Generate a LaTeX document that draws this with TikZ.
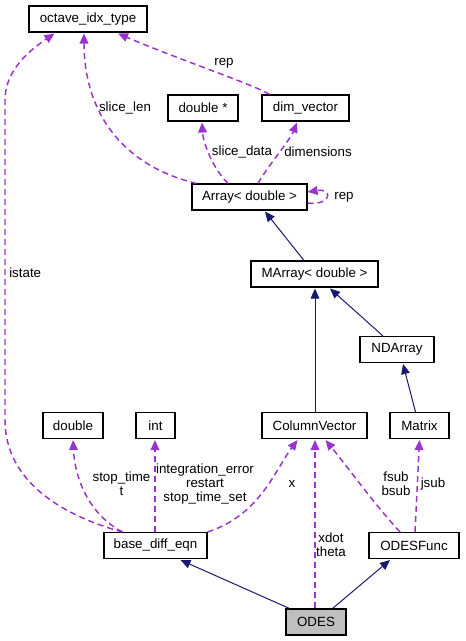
\documentclass[tikz,border=0pt]{standalone}
\usepackage{fontspec}
\setmainfont{Liberation Sans}
\usetikzlibrary{arrows.meta,calc}
\definecolor{dep}{HTML}{9A32CD}
\definecolor{inh}{HTML}{191970}
\definecolor{hl}{HTML}{BFBFBF}
\begin{document}
\begin{tikzpicture}[x=0.75pt,y=-0.75pt,
  font=\fontsize{10pt}{11.5pt}\selectfont,
  cls/.style={draw=black,line width=0.8pt,inner sep=0pt,minimum height=19.5pt,minimum width=#1*0.75pt},
  depl/.style={draw=dep,dash pattern=on 4.5pt off 3pt,line width=1.1pt,-{Triangle[length=7.5pt,width=6.5pt,fill=dep]}},
  inhl/.style={draw=inh,line width=0.75pt,-{Triangle[length=7.5pt,width=6.5pt,fill=inh]}},
  lbl/.style={inner sep=0pt,align=center,font=\fontsize{10pt}{10.5pt}\selectfont}]
\useasboundingbox (0,0) rectangle (465,641);
% nodes
\node[cls=118] (oct) at (88,19) {octave\_idx\_type};
\node[cls=70] (dbls) at (203,108) {double *};
\node[cls=87] (dimv) at (305.5,108) {dim\_vector};
\node[cls=115] (arr) at (249.5,197) {Array< double >};
\node[cls=127] (marr) at (314.5,274) {MArray< double >};
\node[cls=74] (nda) at (397,349.5) {NDArray};
\node[cls=59] (mat) at (419.5,425.5) {Matrix};
\node[cls=105] (colv) at (314.5,425.5) {ColumnVector};
\node[cls=60] (dbl) at (73,425.5) {double};
\node[cls=39] (intn) at (155.5,425.5) {int};
\node[cls=103] (bde) at (155.5,545.5) {base\_diff\_eqn};
\node[cls=90] (odesf) at (414,545.5) {ODESFunc};
\node[cls=60,fill=hl] (odes) at (316,622) {ODES};
% inheritance
\draw[inhl] ($(odes.north west)+(4,0)$) -- ($(bde.south)+(25,1)$);
\draw[inhl] ($(odes.north east)+(-14,0)$) -- ($(odesf.south)+(-24,1)$);
\draw[inhl] ($(marr.north)+(-10.5,0)$) -- ($(arr.south)+(15.5,1)$);
\draw[inhl] ($(colv.north)+(0.5,0)$) -- ($(marr.south)+(0.5,1)$);
\draw[inhl] ($(nda.north)+(-14,0)$) -- ($(marr.south)+(15.5,1)$);
\draw[inhl] ($(mat.north)+(-4,0)$) -- ($(nda.south)+(6,1)$);
% dependencies
\draw[depl] ($(arr.north west)+(5,0)$) .. controls (120,165) and (84,110) .. ($(oct.south)+(-4,1)$);
\node[lbl] (l1) at (125,108) {slice\_len};
\draw[depl] ($(arr.north)+(-21.5,0)$) .. controls (210,165) and (203,140) .. ($(dbls.south)+(-1,1)$);
\node[lbl] (l2) at (242,152) {slice\_data};
\draw[depl] ($(arr.north)+(8.5,0)$) .. controls (265,170) and (290,140) .. ($(dimv.south)+(-8.5,1)$);
\node[lbl] (l3) at (318,152) {dimensions};
\draw[depl] ($(arr.east)+(0,6)$) .. controls +(24,3) and +(26,-4) .. ($(arr.east)+(0,-5)$);
\node[lbl] (l4) at (344,197) {rep};
\draw[depl] ($(dimv.north west)+(8,0)$) .. controls (255,85) and (180,60) .. ($(oct.south)+(30,1)$);
\node[lbl] (l5) at (224,63) {rep};
\draw[depl] ($(bde.north west)+(19,0)$) .. controls (60,515) and (5,480) .. (5,420) -- (5,100) .. controls (5,70) and (30,50) .. ($(oct.south west)+(26,1)$);
\node[lbl,anchor=west] (l6) at (9,273) {istate};
\draw[depl] ($(bde.north west)+(19,0)$) .. controls (90,515) and (75,480) .. ($(dbl.south)+(0,1)$);
\node[lbl] (l7) at (121.5,484) {stop\_time\\t};
\draw[depl] ($(bde.north)+(-0.5,0)$) -- ($(intn.south)+(-0.5,1)$);
\node[lbl] (l8) at (205,484) {integration\_error\\restart\\stop\_time\_set};
\draw[depl] ($(bde.north east)+(0,0)$) .. controls (260,515) and (275,470) .. ($(colv.south)+(-17,1)$);
\node[lbl] (l9) at (292,484) {x};
\draw[depl] ($(odes.north)+(-1,0)$) -- ($(colv.south)+(0.5,1)$);
\node[lbl] (l10) at (331,545) {xdot\\theta};
\draw[depl] ($(odesf.north)+(-14,0)$) .. controls (375,505) and (350,470) .. ($(colv.south)+(11,1)$);
\node[lbl] (l11) at (396,484) {fsub\\bsub};
\draw[depl] ($(odesf.north)+(1,0)$) -- ($(mat.south)+(0,1)$);
\node[lbl] (l12) at (433,484) {jsub};
\end{tikzpicture}
\end{document}
